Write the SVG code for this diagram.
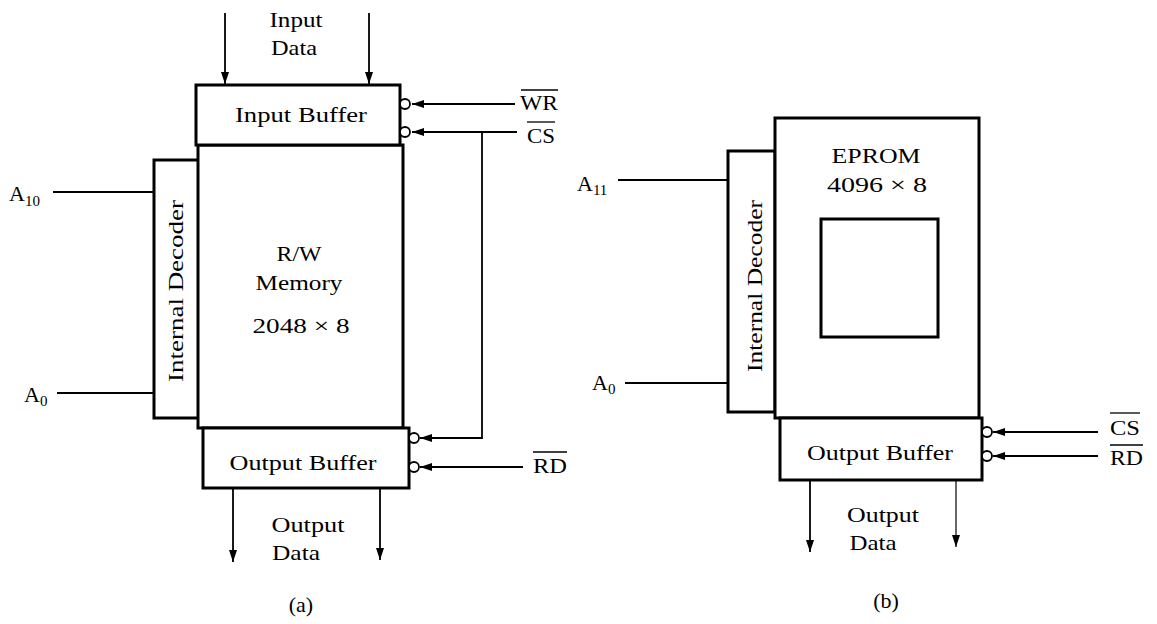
<svg xmlns="http://www.w3.org/2000/svg" width="1157" height="624" viewBox="0 0 1157 624">
<defs>
<marker id="arr" viewBox="0 0 12 8" refX="12" refY="4" markerWidth="12" markerHeight="8" orient="auto" markerUnits="userSpaceOnUse"><path d="M0,0 L12,4 L0,8 z" fill="#000"/></marker>
<style>
.box{fill:#fff;stroke:#000;stroke-width:3}
.ln{fill:none;stroke:#000;stroke-width:1.8}
.thin{fill:none;stroke:#000;stroke-width:1.2}
.bub{fill:#fff;stroke:#000;stroke-width:1.8}
.ol{stroke:#000;stroke-width:1.3}
text{font-family:"Liberation Serif","Times New Roman",serif;fill:#000}
.t{font-size:22px;text-anchor:middle}
.s{font-size:20px}
.a{font-size:22px}
.sub{font-size:15px}
</style>
</defs>
<rect width="1157" height="624" fill="#fff"/>

<!-- (a) -->
<g id="decoder-a">
<rect class="box" x="154" y="160" width="45" height="258"/>
<text class="t" transform="translate(183,291) rotate(-90)" textLength="182" lengthAdjust="spacingAndGlyphs">Internal Decoder</text>
</g>
<g id="memory-a">
<rect class="box" x="198" y="145" width="205" height="283"/>
<text class="t" x="299" y="261" textLength="45" lengthAdjust="spacingAndGlyphs">R/W</text>
<text class="t" x="299" y="290" textLength="87" lengthAdjust="spacingAndGlyphs">Memory</text>
<text class="t" x="301" y="333" textLength="97" lengthAdjust="spacingAndGlyphs">2048 × 8</text>
</g>
<g id="input-buffer-a">
<rect class="box" x="196" y="85" width="204" height="60"/>
<text class="t" x="301" y="122" textLength="132" lengthAdjust="spacingAndGlyphs">Input Buffer</text>
</g>
<g id="output-buffer-a">
<rect class="box" x="203" y="428" width="206" height="60"/>
<text class="t" x="303" y="470" textLength="147" lengthAdjust="spacingAndGlyphs">Output Buffer</text>
</g>
<g id="labels-a">
<text class="t" x="296" y="27" textLength="53" lengthAdjust="spacingAndGlyphs">Input</text>
<text class="t" x="294" y="55" textLength="46" lengthAdjust="spacingAndGlyphs">Data</text>
<text class="t" x="308" y="532" textLength="73" lengthAdjust="spacingAndGlyphs">Output</text>
<text class="t" x="296" y="560" textLength="48" lengthAdjust="spacingAndGlyphs">Data</text>
<text class="t" x="301" y="612">(a)</text>
<text class="a" x="9" y="201">A<tspan class="sub" dy="5">10</tspan></text>
<text class="a" x="24" y="402">A<tspan class="sub" dy="4">0</tspan></text>
<text class="s" x="520" y="110" textLength="38" lengthAdjust="spacingAndGlyphs">WR</text>
<line class="ol" x1="521" y1="90" x2="558" y2="90"/>
<text class="s" x="527" y="143" textLength="28" lengthAdjust="spacingAndGlyphs">CS</text>
<line class="ol" x1="527" y1="122" x2="555" y2="122"/>
<text class="s" x="533" y="473" textLength="34" lengthAdjust="spacingAndGlyphs">RD</text>
<line class="ol" x1="533" y1="452" x2="567" y2="452"/>
</g>

<!-- (b) -->
<g id="decoder-b">
<rect class="box" x="728" y="151" width="47" height="261"/>
<text class="t" transform="translate(762,286) rotate(-90)" textLength="172" lengthAdjust="spacingAndGlyphs">Internal Decoder</text>
</g>
<g id="eprom-b">
<rect class="box" x="775" y="118" width="204" height="300"/>
<text class="t" x="876" y="163" textLength="89" lengthAdjust="spacingAndGlyphs">EPROM</text>
<text class="t" x="877" y="192" textLength="100" lengthAdjust="spacingAndGlyphs">4096 × 8</text>
<rect class="box" x="821" y="219" width="117" height="118"/>
</g>
<g id="output-buffer-b">
<rect class="box" x="780" y="418" width="202" height="62"/>
<text class="t" x="880" y="460" textLength="146" lengthAdjust="spacingAndGlyphs">Output Buffer</text>
</g>
<g id="labels-b">
<text class="t" x="883" y="522" textLength="72" lengthAdjust="spacingAndGlyphs">Output</text>
<text class="t" x="873" y="550" textLength="47" lengthAdjust="spacingAndGlyphs">Data</text>
<text class="t" x="886" y="608">(b)</text>
<text class="a" x="577" y="191">A<tspan class="sub" dy="4">11</tspan></text>
<text class="a" x="592" y="390">A<tspan class="sub" dy="4">0</tspan></text>
<text class="s" x="1110" y="435" textLength="30" lengthAdjust="spacingAndGlyphs">CS</text>
<line class="ol" x1="1110" y1="413" x2="1140" y2="413"/>
<text class="s" x="1110" y="465" textLength="33" lengthAdjust="spacingAndGlyphs">RD</text>
<line class="ol" x1="1110" y1="445" x2="1143" y2="445"/>
</g>

<g id="connectors">
<!-- (a) -->
<line class="ln" x1="225" y1="13" x2="225" y2="84" marker-end="url(#arr)"/>
<line class="ln" x1="369" y1="13" x2="369" y2="84" marker-end="url(#arr)"/>
<line class="ln" x1="233" y1="489" x2="233" y2="562" marker-end="url(#arr)"/>
<line class="ln" x1="380" y1="489" x2="380" y2="560" marker-end="url(#arr)"/>
<line class="ln" x1="53" y1="192" x2="154" y2="192"/>
<line class="ln" x1="57" y1="393" x2="154" y2="393"/>
<line class="ln" x1="515" y1="104" x2="412" y2="104" marker-end="url(#arr)"/>
<line class="ln" x1="517" y1="132" x2="412" y2="132" marker-end="url(#arr)"/>
<polyline class="ln" points="482,132 482,438 420,438" marker-end="url(#arr)"/>
<line class="ln" x1="523" y1="467" x2="420" y2="467" marker-end="url(#arr)"/>
<circle class="bub" cx="405" cy="104" r="5"/>
<circle class="bub" cx="405" cy="132" r="5"/>
<circle class="bub" cx="414" cy="438" r="5"/>
<circle class="bub" cx="414" cy="467" r="5"/>
<!-- (b) -->
<line class="ln" x1="618" y1="180" x2="728" y2="180"/>
<line class="ln" x1="625" y1="383" x2="728" y2="383"/>
<line class="ln" x1="810" y1="481" x2="810" y2="552" marker-end="url(#arr)"/>
<line class="thin" x1="956" y1="481" x2="956" y2="547" marker-end="url(#arr)"/>
<line class="ln" x1="1098" y1="432" x2="993" y2="432" marker-end="url(#arr)"/>
<line class="ln" x1="1098" y1="456" x2="993" y2="456" marker-end="url(#arr)"/>
<circle class="bub" cx="987" cy="432" r="5"/>
<circle class="bub" cx="987" cy="456" r="5"/>
</g>
</svg>
